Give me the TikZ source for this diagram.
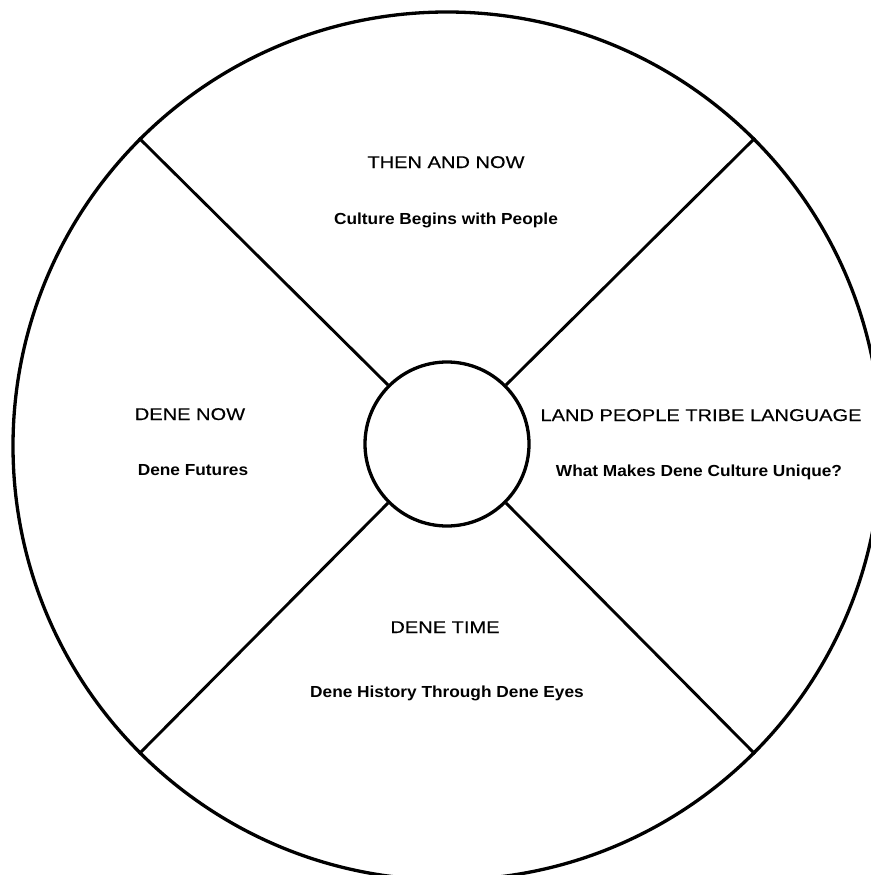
\documentclass[tikz,border=0pt]{standalone}
\usepackage{fontspec}
\setmainfont{Liberation Sans}
\newfontfamily\titlefont[FakeStretch=1.18,FakeBold=0.3]{Liberation Sans}
\newfontfamily\subfont[FakeStretch=1.08]{Liberation Sans Bold}
\begin{document}
\begin{tikzpicture}[x=1pt,y=-1pt,
  ring/.style={circle,draw,line width=3.3pt,inner sep=0pt},
  spoke/.style={line width=2.9pt},
  ttl/.style={anchor=base,inner sep=0pt,font=\titlefont\fontsize{17}{20}\selectfont},
  sub/.style={anchor=base,inner sep=0pt,font=\subfont\fontsize{16}{19}\selectfont}]
\useasboundingbox (0,0) rectangle (870,875);
\node[ring,minimum size=868pt] (outer) at (447,446) {};
\node[ring,minimum size=164pt] (inner) at (447,444) {};
\draw[spoke] (inner.45) -- (outer.45);
\draw[spoke] (inner.135) -- (outer.135);
\draw[spoke] (inner.225) -- (outer.225);
\draw[spoke] (inner.315) -- (outer.315);
\node[ttl] (t1) at (446,168) {THEN AND NOW};
\node[sub] (s1) at (446,224) {Culture Begins with People};
\node[ttl] (t2) at (190,420) {DENE NOW};
\node[sub] (s2) at (193,475) {Dene Futures};
\node[ttl] (t3) at (701,421) {LAND PEOPLE TRIBE LANGUAGE};
\node[sub] (s3) at (699,476) {What Makes Dene Culture Unique?};
\node[ttl] (t4) at (445,633) {DENE TIME};
\node[sub] (s4) at (447,697) {Dene History Through Dene Eyes};
\end{tikzpicture}
\end{document}
